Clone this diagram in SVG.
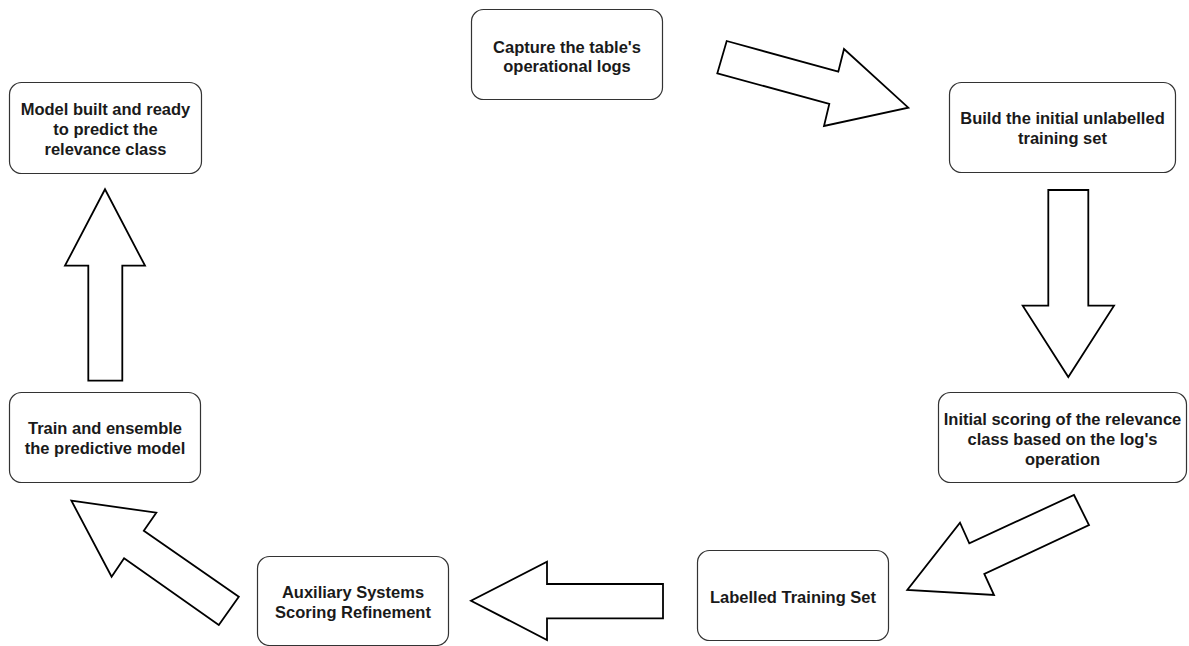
<svg xmlns="http://www.w3.org/2000/svg" width="1189" height="646" viewBox="0 0 1189 646">
  <style>
    .box { fill: #ffffff; stroke: #333333; stroke-width: 1.2; }
    .lbl { font-family: "Liberation Sans", Arial, sans-serif; font-weight: bold; font-size: 16.5px; fill: #1a1a1a; text-anchor: middle; dominant-baseline: central; }
    .flow { fill: #ffffff; stroke: #000000; stroke-width: 1.8; stroke-linejoin: miter; }
  </style>
  <rect width="1189" height="646" fill="#ffffff"/>

  <g id="capture-logs">
    <rect class="box" x="471.5" y="9.5" width="191" height="90" rx="12"/>
    <text class="lbl" x="567" y="46.5">Capture the table's</text>
    <text class="lbl" x="567" y="66">operational logs</text>
  </g>

  <g id="build-unlabelled-set">
    <rect class="box" x="949.5" y="82.5" width="226" height="90" rx="12"/>
    <text class="lbl" x="1062.5" y="118">Build the initial unlabelled</text>
    <text class="lbl" x="1062.5" y="138">training set</text>
  </g>

  <g id="initial-scoring">
    <rect class="box" x="938.5" y="392.5" width="248" height="90" rx="12"/>
    <text class="lbl" x="1062.5" y="419">Initial scoring of the relevance</text>
    <text class="lbl" x="1062.5" y="439">class based on the log's</text>
    <text class="lbl" x="1062.5" y="459">operation</text>
  </g>

  <g id="labelled-set">
    <rect class="box" x="697.5" y="550.5" width="191" height="90" rx="12"/>
    <text class="lbl" x="793" y="596.5">Labelled Training Set</text>
  </g>

  <g id="auxiliary-refinement">
    <rect class="box" x="257.5" y="556.5" width="191" height="89" rx="12"/>
    <text class="lbl" x="353" y="591.5">Auxiliary Systems</text>
    <text class="lbl" x="353" y="611.5">Scoring Refinement</text>
  </g>

  <g id="train-ensemble">
    <rect class="box" x="9.5" y="392.5" width="191" height="90" rx="12"/>
    <text class="lbl" x="105" y="428">Train and ensemble</text>
    <text class="lbl" x="105" y="448">the predictive model</text>
  </g>

  <g id="model-ready">
    <rect class="box" x="9.5" y="82.5" width="192" height="91" rx="12"/>
    <text class="lbl" x="105.5" y="108.5">Model built and ready</text>
    <text class="lbl" x="105.5" y="129">to predict the</text>
    <text class="lbl" x="105.5" y="149">relevance class</text>
  </g>

  <g id="connectors">
    <!-- capture -> build -->
    <polygon class="flow" points="726.7,41 838.3,71.7 844,49 908.3,107.7 824,126 829.3,104 717.3,73.3"/>
    <!-- build -> initial scoring -->
    <polygon class="flow" points="1048.3,190 1088.3,190 1088.3,305.7 1114,305.7 1068.3,377 1022.7,305.7 1048.3,305.7"/>
    <!-- initial scoring -> labelled -->
    <polygon class="flow" points="1074,495 1089,525 984.3,574 994,595 907.3,590 960,522.7 969.3,543.3"/>
    <!-- labelled -> auxiliary -->
    <polygon class="flow" points="663,584 663,618.3 547,618.3 547,640 471,600.7 547,561.7 547,584"/>
    <!-- auxiliary -> train -->
    <polygon class="flow" points="238.8,596.7 218.8,625 124.1,558.3 111.6,576.7 71.4,500.7 156.3,512.7 143.8,530.7"/>
    <!-- train -> model -->
    <polygon class="flow" points="88.3,380.7 122.3,380.7 122.3,265.7 145,265.7 105,189.3 65,265.7 88.3,265.7"/>
  </g>
</svg>
